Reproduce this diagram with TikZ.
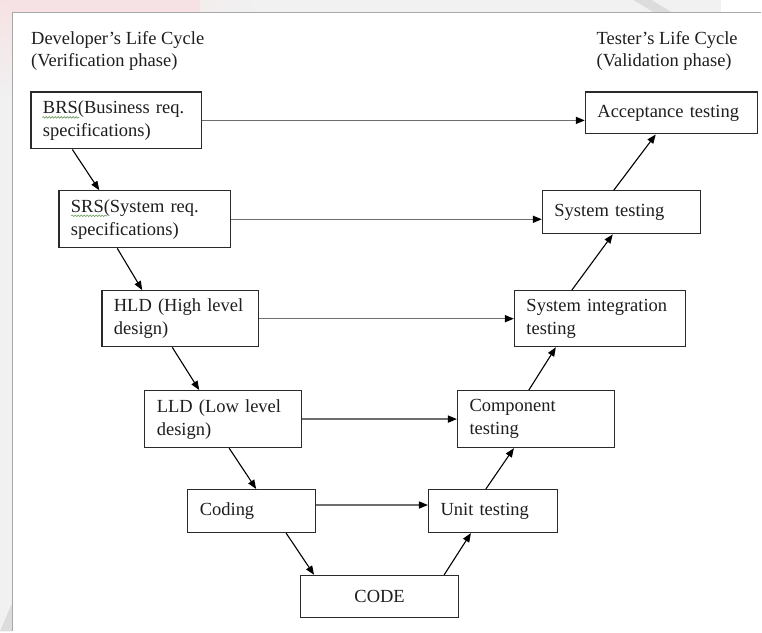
\documentclass[tikz,border=0pt]{standalone}
\usepackage{fontspec}
\setmainfont{Liberation Serif}
\usetikzlibrary{arrows.meta,decorations.pathmorphing}
\definecolor{boxc}{HTML}{2A2A2A}
\definecolor{txt}{HTML}{1E1E1E}
\definecolor{hline}{HTML}{6E6E6E}
\definecolor{framec}{HTML}{A8A8A8}
\definecolor{bgc}{HTML}{F1F1F1}
\definecolor{pinkc}{HTML}{F6E2E4}
\definecolor{stripc}{HTML}{DCDCDC}
\definecolor{wavec}{HTML}{6A9A5A}
\begin{document}
\begin{tikzpicture}[x=1pt,y=-1pt,
  box/.style={draw=boxc, line width=1.2pt, fill=white, align=left, inner xsep=12pt,
    inner ysep=0pt, font=\fontsize{18.5}{23}\selectfont, text=txt},
  hdr/.style={inner sep=0pt, font=\fontsize{18.5}{23}\selectfont, text=txt, anchor=base west},
  tip/.style={-{Triangle[length=9pt,width=7pt,color=black]}},
  diag/.style={tip, draw=black, line width=1.1pt},
  horiz/.style={tip, draw=hline, line width=1.5pt},
  wavy/.style={draw=wavec, line width=0.6pt, decorate,
    decoration={snake, amplitude=0.8pt, segment length=3pt}}]
% background and frame
\fill[bgc] (0,0) rectangle (762,632);
\shade[left color=pinkc, right color=bgc] (0,0) rectangle (260,12);
\fill[pinkc] (0,0) rectangle (200,12);
\shade[top color=pinkc, bottom color=bgc] (0,0) rectangle (12,100);
\fill[stripc] (634,0) -- (652,0) -- (672,12) -- (654,12) -- cycle;
\fill[white] (722,0) rectangle (762,12);
\fill[white] (12,12) rectangle (762,632);
\fill[stripc] (0,632) -- (12,604) -- (12,632) -- cycle;
\draw[framec, line width=1.5pt] (12.5,632) -- (12.5,12.5) -- (762,12.5);
% headers
\node[hdr] (dev1) at (31,45) {Developer’s Life Cycle};
\node[hdr] (dev2) at (31,67) {(Verification phase)};
\node[hdr] (tst1) at (597,45) {Tester’s Life Cycle};
\node[hdr] (tst2) at (597,67) {(Validation phase)};
% left side
\node[box, text width=147pt, minimum height=57pt] (brs) at (116.5,120.5) {BRS(Business req.\\specifications)};
\node[box, text width=148pt, minimum height=57pt] (srs) at (145,219.5) {SRS(System req.\\specifications)};
\node[box, text width=133pt, minimum height=56pt] (hld) at (180.5,319) {HLD (High level\\design)};
\node[box, text width=133pt, minimum height=57pt] (lld) at (223.5,419.5) {LLD (Low level\\design)};
\node[box, text width=104pt, minimum height=43pt] (cod) at (252,511.5) {Coding};
\node[box, align=center, text width=134pt, minimum height=42pt] (code) at (380,597) {CODE};
% right side
\node[box, text width=105pt, minimum height=43pt] (unit) at (493.5,511.5) {Unit testing};
\node[box, text width=133pt, minimum height=57pt] (comp) at (536.5,419.5) {Component\\testing};
\node[box, text width=147pt, minimum height=56pt] (sint) at (600.5,319) {System integration\\testing};
\node[box, text width=134pt, minimum height=43pt] (sys) at (622,212.5) {System testing};
\node[box, text width=148pt, minimum height=42pt] (acc) at (672,113) {Acceptance testing};
% spell-check underlines
\draw[wavy] ([xshift=12pt,yshift=3pt]brs.west) -- ([xshift=49pt,yshift=3pt]brs.west);
\draw[wavy] ([xshift=13pt,yshift=3.5pt]srs.west) -- ([xshift=49pt,yshift=3.5pt]srs.west);
% descending arrows
\draw[diag] ([xshift=42pt]brs.south west) -- ([xshift=41pt]srs.north west);
\draw[diag] ([xshift=59pt]srs.south west) -- ([xshift=41pt]hld.north west);
\draw[diag] ([xshift=71pt]hld.south west) -- ([xshift=55pt]lld.north west);
\draw[diag] ([xshift=85pt]lld.south west) -- ([xshift=69pt]cod.north west);
\draw[diag] ([xshift=99pt]cod.south west) -- ([xshift=14pt]code.north west);
% ascending arrows
\draw[diag] ([xshift=-15pt]code.north east) -- ([xshift=43pt]unit.south west);
\draw[diag] ([xshift=58pt]unit.north west) -- ([xshift=57pt]comp.south west);
\draw[diag] ([xshift=72pt]comp.north west) -- ([xshift=42pt]sint.south west);
\draw[diag] ([xshift=58pt]sint.north west) -- ([xshift=71pt]sys.south west);
\draw[diag] ([xshift=72pt]sys.north west) -- ([xshift=71pt]acc.south west);
% horizontal arrows
\draw[horiz] (brs.east) -- (brs.east -| acc.west);
\draw[horiz] (srs.east) -- (srs.east -| sys.west);
\draw[horiz] (hld.east) -- (hld.east -| sint.west);
\draw[horiz] (lld.east) -- (lld.east -| comp.west);
\draw[horiz] ([yshift=6pt]cod.east) -- ([yshift=6pt]cod.east -| unit.west);
\end{tikzpicture}
\end{document}
